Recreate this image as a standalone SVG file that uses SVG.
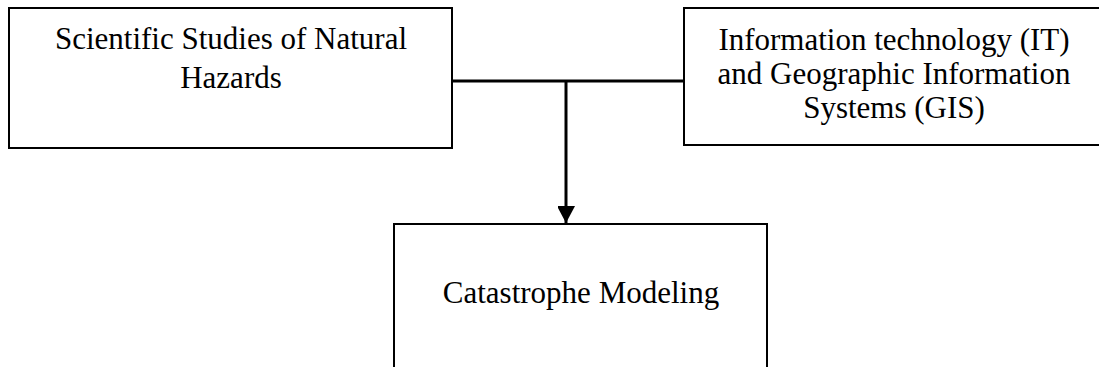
<svg xmlns="http://www.w3.org/2000/svg" width="1099" height="367" viewBox="0 0 1099 367">
  <style>
    .box { fill: #ffffff; stroke: #000000; stroke-width: 2; }
    .label { font-family: "Liberation Serif", "Times New Roman", serif; font-size: 31px; fill: #000000; text-anchor: middle; }
    .link { fill: none; stroke: #000000; stroke-width: 3; }
  </style>
  <defs>
    <marker id="arrow" markerUnits="userSpaceOnUse" markerWidth="18" markerHeight="17" refX="17" refY="9" orient="auto">
      <path d="M0,0 L17,9 L0,18 Z" fill="#000000"/>
    </marker>
  </defs>
  <rect width="1099" height="367" fill="#ffffff"/>

  <g id="connectors">
    <path class="link" d="M452,81 L684,81"/>
    <path class="link" d="M566,81 L566,223" marker-end="url(#arrow)"/>
  </g>

  <g id="natural-hazards">
    <rect class="box" x="9" y="8" width="443" height="140"/>
    <text class="label" x="231" y="49">Scientific Studies of Natural</text>
    <text class="label" x="231" y="88">Hazards</text>
  </g>

  <g id="it-gis">
    <rect class="box" x="684" y="8" width="420" height="137"/>
    <text class="label" x="894" y="50">Information technology (IT)</text>
    <text class="label" x="894" y="84">and Geographic Information</text>
    <text class="label" x="894" y="118">Systems (GIS)</text>
  </g>

  <g id="catastrophe-modeling">
    <rect class="box" x="394" y="224" width="373" height="160"/>
    <text class="label" x="581" y="303">Catastrophe Modeling</text>
  </g>
</svg>
